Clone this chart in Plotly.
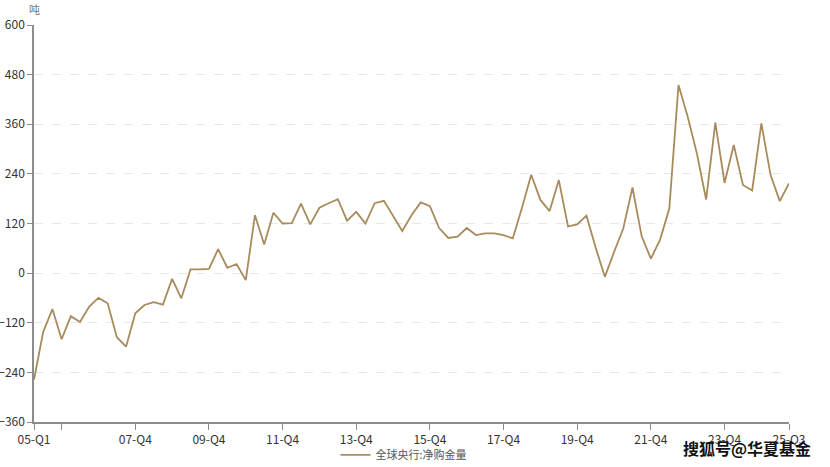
import plotly.graph_objects as go

# Quarter categories 05-Q1 .. 25-Q3
years = list(range(5, 26))
quarters = [f"{y:02d}-Q{q}" for y in years for q in (1, 2, 3, 4)][:83]

net_purchases = [
    -258, -142, -87, -160, -104, -118, -81, -60, -73, -155,
    -178, -97, -77, -70, -76, -14, -61, 9, 9, 10,
    58, 13, 22, -17, 140, 69, 146, 120, 121, 168,
    118, 158, 169, 179, 127, 148, 120, 169, 175, 140,
    102, 140, 171, 162, 109, 85, 88, 109, 92, 96,
    96, 92, 84, 158, 238, 177, 150, 225, 113, 118,
    139, 62, -9, 51, 108, 207, 89, 35, 81, 156,
    455, 378, 289, 178, 364, 218, 310, 213, 200, 362,
    237, 174, 217,
]

tick_cats = ["05-Q1", "05-Q4", "07-Q4", "09-Q4", "11-Q4", "13-Q4", "15-Q4",
             "17-Q4", "19-Q4", "21-Q4", "23-Q4", "25-Q3"]
tick_text = ["05-Q1", "", "07-Q4", "09-Q4", "11-Q4", "13-Q4", "15-Q4",
             "17-Q4", "19-Q4", "21-Q4", "23-Q4", "25-Q3"]
y_ticks = [-360, -240, -120, 0, 120, 240, 360, 480, 600]

FONT = "Noto Sans CJK SC, Noto Sans, sans-serif"

fig = go.Figure()
fig.add_trace(go.Scatter(
    x=quarters, y=net_purchases, mode="lines",
    name="全球央行:净购金量",
    line=dict(color="#A88B5C", width=1.8),
))

fig.update_layout(
    width=830, height=467,
    margin=dict(l=34, r=41, t=25, b=45, autoexpand=False),
    paper_bgcolor="white", plot_bgcolor="white",
    font=dict(family=FONT, size=12, color="#333333"),
    showlegend=True,
    legend=dict(orientation="h", x=0.49, xanchor="center", y=-0.083, yanchor="middle",
                font=dict(size=11, color="#555555"), itemwidth=30,
                bgcolor="rgba(0,0,0,0)"),
    xaxis=dict(
        type="category", range=[0, 82], automargin=False,
        tickmode="array", tickvals=tick_cats, ticktext=tick_text,
        showgrid=False, showline=True, linecolor="#8c8c8c", linewidth=1.5,
        ticks="outside", ticklen=6, tickcolor="#8c8c8c", tickwidth=1.2,
        tickfont=dict(size=12, color="#333333"), zeroline=False,
    ),
    yaxis=dict(
        range=[-360, 600], tickmode="array", tickvals=y_ticks, automargin=False,
        showgrid=True, gridcolor="#e8e8e8", griddash="dash", gridwidth=1,
        showline=True, linecolor="#8c8c8c", linewidth=1.5,
        ticks="outside", ticklen=5, tickcolor="#8c8c8c", tickwidth=1.2,
        tickfont=dict(size=12, color="#333333"), zeroline=False,
    ),
    annotations=[
        dict(text="吨", xref="paper", yref="paper", x=0, y=1, xanchor="center",
             yanchor="bottom", yshift=6, showarrow=False,
             font=dict(size=11, color="#777777")),
        dict(text="<b>搜狐号@华夏基金</b>", xref="paper", yref="paper", x=1.032, y=-0.065,
             xanchor="right", yanchor="middle", showarrow=False,
             font=dict(size=16, color="#111111", family=FONT)),
    ],
)

fig.write_html("out.html", config={"displayModeBar": False},
               post_script="document.body.style.margin='0';")
